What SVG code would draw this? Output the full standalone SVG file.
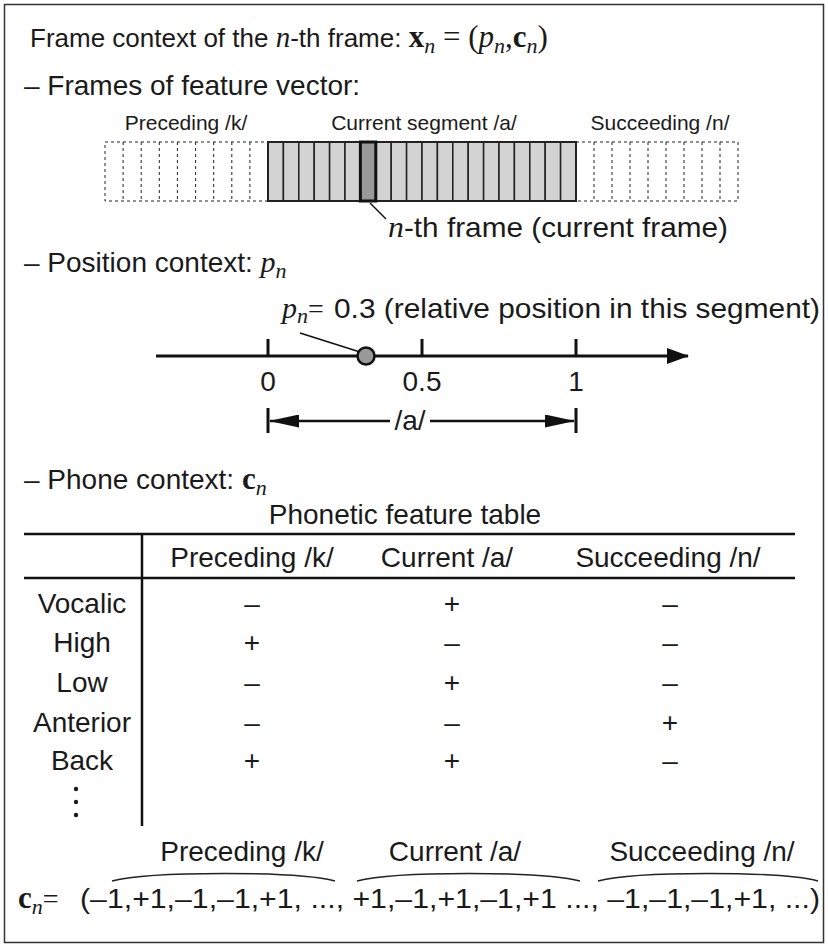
<svg xmlns="http://www.w3.org/2000/svg" width="828" height="947" viewBox="0 0 828 947">
  <defs>
    <marker id="axisHead" markerWidth="22" markerHeight="16" refX="21" refY="8" orient="auto" markerUnits="userSpaceOnUse">
      <path d="M0,0 L22,8 L0,16 Z" fill="#111"/>
    </marker>
    <marker id="dimHead" markerWidth="30" markerHeight="13" refX="29" refY="6.5" orient="auto" markerUnits="userSpaceOnUse">
      <path d="M0,0 L30,6.5 L0,13 Z" fill="#111"/>
    </marker>
  </defs>
  <style>
    text { font-family: "Liberation Sans", Arial, sans-serif; fill: #1a1a1a; }
    .mi { font-family: "Liberation Serif", "DejaVu Serif", serif; font-style: italic; }
    .mb { font-family: "Liberation Serif", "DejaVu Serif", serif; font-weight: bold; }
    .rm { font-family: "Liberation Serif", "DejaVu Serif", serif; }
    .h1 { font-size: 26px; }
    .big { font-size: 28px; }
    .small { font-size: 21px; }
    .ctr { text-anchor: middle; }
    .dashbox { fill: none; stroke: #222; stroke-width: 1; stroke-dasharray: 3 3; }
    .cell { fill: #d3d3d3; stroke: #222; stroke-width: 1.5; }
    .rule { stroke: #111; stroke-width: 2.5; fill: none; }
    .line { stroke: #111; stroke-width: 3; fill: none; }
    .lead { stroke: #111; stroke-width: 1.5; fill: none; }
    .dim { stroke: #111; stroke-width: 2.5; fill: none; }
    .brace { stroke: #222; stroke-width: 1.4; fill: none; }
  </style>

  <!-- outer frame -->
  <rect id="frame" x="4.5" y="4.5" width="819" height="938" fill="#fff" stroke="#333" stroke-width="1.5"/>

  <!-- heading -->
  <g id="title">
    <text x="30" y="47" class="h1">Frame context of the<tspan class="mi" font-size="29"> n</tspan>-th frame:  <tspan class="mb" font-size="31">x</tspan><tspan class="mi" font-size="22" dy="6">n</tspan><tspan class="rm" font-size="31" dy="-6"> = (</tspan><tspan class="mi" font-size="31">p</tspan><tspan class="mi" font-size="22" dy="6">n</tspan><tspan class="rm" font-size="31" dy="-6">,</tspan><tspan class="mb" font-size="31">c</tspan><tspan class="mi" font-size="22" dy="6">n</tspan><tspan class="rm" font-size="31" dy="-6">)</tspan></text>
  </g>

  <!-- frames of the feature vector -->
  <g id="frames-heading">
    <text x="24" y="95" class="big">– Frames of feature vector:</text>
  </g>
  <g id="frame-labels">
    <text x="186" y="130" class="ctr small">Preceding /k/</text>
    <text x="424" y="130" class="ctr small">Current segment /a/</text>
    <text x="660" y="130" class="ctr small">Succeeding /n/</text>
  </g>

  <g id="preceding-frames">
    <rect class="dashbox" x="105" y="142" width="163" height="59"/>
    <path class="dashbox" d="M123.1,142V201M141.2,142V201M159.3,142V201M177.4,142V201M195.6,142V201M213.7,142V201M231.8,142V201M249.9,142V201"/>
  </g>
  <g id="succeeding-frames">
    <rect class="dashbox" x="576" y="142" width="162" height="59"/>
    <path class="dashbox" d="M594,142V201M612,142V201M630,142V201M648,142V201M666,142V201M684,142V201M702,142V201M720,142V201"/>
  </g>
  <g id="current-segment">
    <rect class="cell" x="268" y="142" width="15.4" height="59"/>
    <rect class="cell" x="283.4" y="142" width="15.4" height="59"/>
    <rect class="cell" x="298.8" y="142" width="15.4" height="59"/>
    <rect class="cell" x="314.2" y="142" width="15.4" height="59"/>
    <rect class="cell" x="329.6" y="142" width="15.4" height="59"/>
    <rect class="cell" x="345" y="142" width="15.4" height="59"/>
    <rect class="cell" x="375.8" y="142" width="15.4" height="59"/>
    <rect class="cell" x="391.2" y="142" width="15.4" height="59"/>
    <rect class="cell" x="406.6" y="142" width="15.4" height="59"/>
    <rect class="cell" x="422" y="142" width="15.4" height="59"/>
    <rect class="cell" x="437.4" y="142" width="15.4" height="59"/>
    <rect class="cell" x="452.8" y="142" width="15.4" height="59"/>
    <rect class="cell" x="468.2" y="142" width="15.4" height="59"/>
    <rect class="cell" x="483.6" y="142" width="15.4" height="59"/>
    <rect class="cell" x="499" y="142" width="15.4" height="59"/>
    <rect class="cell" x="514.4" y="142" width="15.4" height="59"/>
    <rect class="cell" x="529.8" y="142" width="15.4" height="59"/>
    <rect class="cell" x="545.2" y="142" width="15.4" height="59"/>
    <rect class="cell" x="560.6" y="142" width="15.4" height="59"/>
    <rect x="268" y="142" width="308" height="59" fill="none" stroke="#222" stroke-width="2"/>
  </g>
  <g id="current-frame">
    <rect x="360.4" y="142" width="15.4" height="59" fill="#999" stroke="#111" stroke-width="3"/>
  </g>
  <g id="connectors">
    <line class="lead" x1="370" y1="203" x2="386" y2="219"/>
    <line class="lead" x1="300" y1="333" x2="360" y2="352"/>
  </g>
  <g id="current-frame-label">
    <text x="388" y="237" class="big" textLength="340" lengthAdjust="spacingAndGlyphs"><tspan class="mi" font-size="30">n</tspan>-th frame (current frame)</text>
  </g>

  <!-- position context -->
  <g id="position-heading">
    <text x="24" y="272" class="big">– Position context: <tspan class="mi" font-size="30">p</tspan><tspan class="mi" font-size="22" dy="6">n</tspan></text>
  </g>
  <g id="position-label">
    <text x="282" y="318" class="big"><tspan class="mi" font-size="30">p</tspan><tspan class="mi" font-size="22" dy="5">n</tspan><tspan class="rm" font-size="28" dy="-5">=</tspan></text>
    <text x="334" y="318" class="big" textLength="486" lengthAdjust="spacingAndGlyphs">0.3 (relative position in this segment)</text>
  </g>
  <g id="axis">
    <line class="line" x1="156" y1="356" x2="688" y2="356" marker-end="url(#axisHead)"/>
    <path class="line" d="M268,339V356M422,339V356M576,339V356"/>
    <text x="268" y="391" class="big ctr">0</text>
    <text x="422" y="391" class="big ctr">0.5</text>
    <text x="576" y="391" class="big ctr">1</text>
  </g>
  <g id="position-marker">
    <circle cx="366" cy="356" r="8.5" fill="#999" stroke="#111" stroke-width="2.5"/>
  </g>
  <g id="segment-span">
    <path class="line" d="M268,408V433M576,408V433"/>
    <line class="dim" x1="390" y1="421" x2="270" y2="421" marker-end="url(#dimHead)"/>
    <line class="dim" x1="430" y1="421" x2="574" y2="421" marker-end="url(#dimHead)"/>
    <text x="410" y="430" class="big ctr">/a/</text>
  </g>

  <!-- phone context -->
  <g id="phone-heading">
    <text x="24" y="489" class="big">– Phone context: <tspan class="mb" font-size="31">c</tspan><tspan class="mi" font-size="22" dy="6">n</tspan></text>
  </g>
  <g id="feature-table">
    <text x="405" y="524" class="big ctr">Phonetic feature table</text>
    <line class="rule" x1="24" y1="534" x2="795" y2="534"/>
    <line class="rule" x1="24" y1="578" x2="795" y2="578"/>
    <line class="rule" x1="142" y1="534" x2="142" y2="826" stroke-width="2"/>
    <text x="252" y="567" class="big ctr">Preceding  /k/</text>
    <text x="447" y="567" class="big ctr">Current /a/</text>
    <text x="668" y="567" class="big ctr">Succeeding /n/</text>

    <g>
      <text x="82" y="613" class="big ctr">Vocalic</text>
      <text x="82" y="652" class="big ctr">High</text>
      <text x="82" y="692" class="big ctr">Low</text>
      <text x="82" y="732" class="big ctr">Anterior</text>
      <text x="82" y="770" class="big ctr">Back</text>
      <circle cx="76" cy="789" r="2.2" fill="#1a1a1a"/>
      <circle cx="76" cy="802" r="2.2" fill="#1a1a1a"/>
      <circle cx="76" cy="815" r="2.2" fill="#1a1a1a"/>
    </g>
    <g>
      <text x="252" y="613" class="big ctr">–</text><text x="452" y="613" class="big ctr">+</text><text x="670" y="613" class="big ctr">–</text>
      <text x="252" y="652" class="big ctr">+</text><text x="452" y="652" class="big ctr">–</text><text x="670" y="652" class="big ctr">–</text>
      <text x="252" y="692" class="big ctr">–</text><text x="452" y="692" class="big ctr">+</text><text x="670" y="692" class="big ctr">–</text>
      <text x="252" y="732" class="big ctr">–</text><text x="452" y="732" class="big ctr">–</text><text x="670" y="732" class="big ctr">+</text>
      <text x="252" y="770" class="big ctr">+</text><text x="452" y="770" class="big ctr">+</text><text x="670" y="770" class="big ctr">–</text>
    </g>
  </g>

  <!-- resulting phone-context vector -->
  <g id="vector">
    <text x="242" y="861" class="big ctr">Preceding  /k/</text>
    <text x="455" y="861" class="big ctr">Current /a/</text>
    <text x="702" y="861" class="big ctr">Succeeding /n/</text>
    <path class="brace" d="M112,881 C150,871 298,871 335,881"/>
    <path class="brace" d="M357,881 C395,871 542,871 580,881"/>
    <path class="brace" d="M598,881 C636,871 780,871 818,881"/>
    <text x="18" y="908" class="big"><tspan class="mb" font-size="31">c</tspan><tspan class="mi" font-size="22" dy="6">n</tspan><tspan class="rm" font-size="28" dy="-6">=</tspan></text>
    <text x="80" y="908" class="big" textLength="740" lengthAdjust="spacingAndGlyphs">(–1,+1,–1,–1,+1, ..., +1,–1,+1,–1,+1 ...,  –1,–1,–1,+1, ...)</text>
  </g>
</svg>
